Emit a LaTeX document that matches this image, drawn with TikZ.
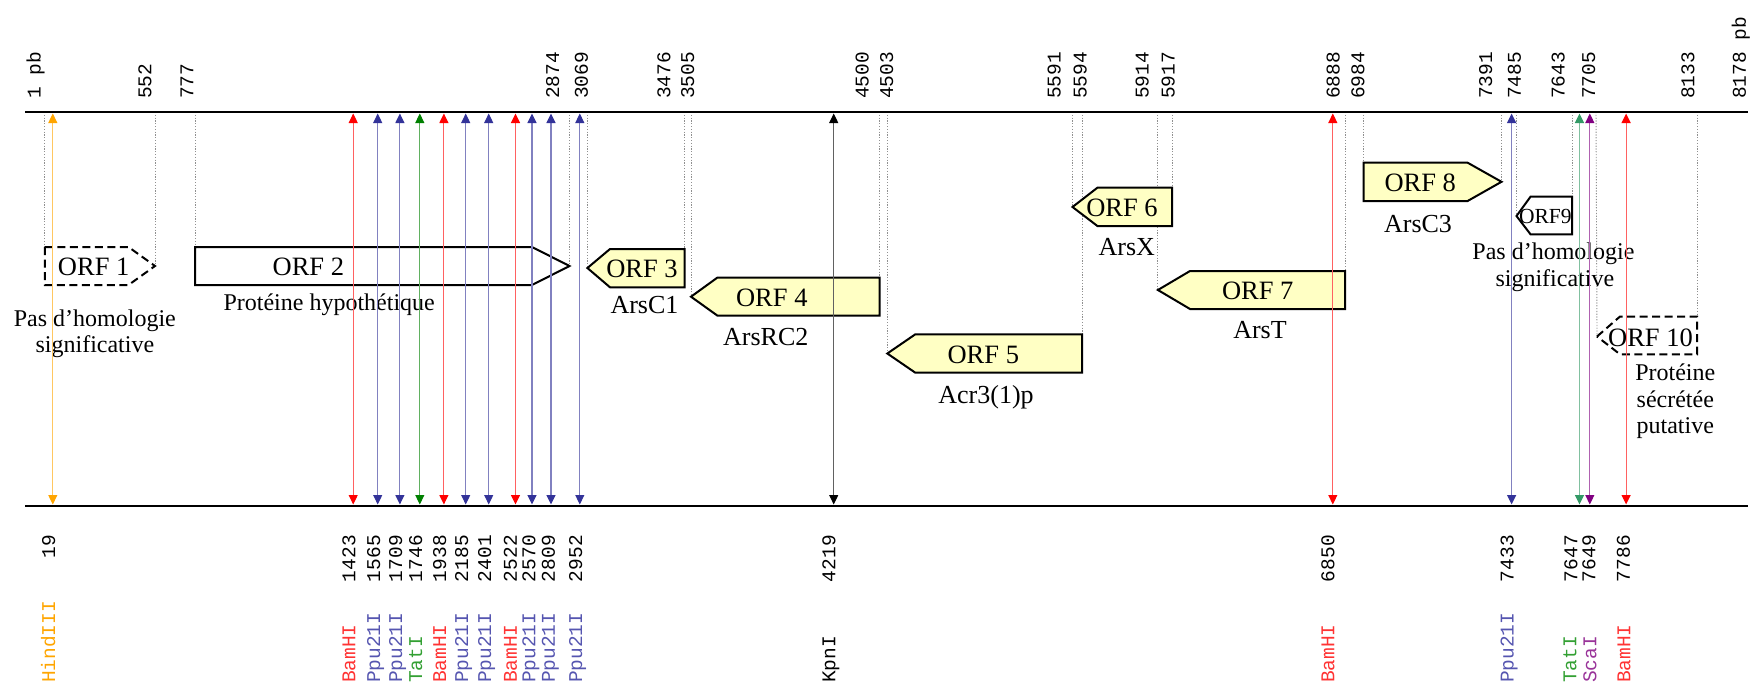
\documentclass[tikz,border=0pt]{standalone}
\usepackage{fontspec}
\setmainfont{Liberation Serif}
\newfontfamily\monof{Liberation Mono}
\usetikzlibrary{arrows.meta}
\definecolor{orfyellow}{HTML}{FFFFC4}
\definecolor{cHind}{HTML}{FFA500}
\definecolor{cBam}{HTML}{FF0000}
\definecolor{cPpu}{HTML}{333399}
\definecolor{cTat}{HTML}{008000}
\definecolor{cTatb}{HTML}{339966}
\definecolor{cSca}{HTML}{800080}
\definecolor{cKpn}{HTML}{000000}
\definecolor{lHind}{HTML}{FFA500}
\definecolor{lBam}{HTML}{FF3333}
\definecolor{lPpu}{HTML}{5555B0}
\definecolor{lTat}{HTML}{33A033}
\definecolor{lSca}{HTML}{993399}
\definecolor{lKpn}{HTML}{000000}
\definecolor{dotgray}{HTML}{909090}
\tikzset{
 mainline/.style={line width=2.4pt, draw=black},
 dotline/.style={draw=dotgray, line width=0.9pt, dash pattern=on 1.2pt off 1.6pt},
 site/.style={draw=#1!62, line width=1.1pt, arrows={Triangle[width=9pt,length=9.5pt,color=#1]-Triangle[width=9pt,length=9.5pt,color=#1]}},
 orfyel/.style={draw=black, line width=2pt, fill=orfyellow},
 orfwhite/.style={draw=black, line width=2pt, fill=white},
 orfdash/.style={draw=black, line width=2pt, fill=white, dash pattern=on 8pt off 4.5pt},
 orflab/.style={font=\fontsize{26.5}{28}\selectfont, inner sep=0pt},
 genelab/.style={font=\fontsize{26}{28}\selectfont, inner sep=0pt, anchor=base},
 desclab/.style={font=\fontsize{24}{26}\selectfont, inner sep=0pt, anchor=base},
 toplab/.style={font=\monof\fontsize{19.5}{20}\selectfont, rotate=90, anchor=mid west, inner sep=0pt},
 numlab/.style={font=\monof\fontsize{19.5}{20}\selectfont, rotate=90, anchor=mid east, inner sep=0pt},
 enzlab/.style={font=\monof\fontsize{19.5}{20}\selectfont, rotate=90, anchor=mid west, inner sep=0pt, text=#1},
}
\begin{document}
\begin{tikzpicture}[x=1pt,y=-1pt]
\useasboundingbox (0,0) rectangle (1758,688);

% ---- top position labels
\foreach \x/\t [count=\i] in {38.3/1 pb,149.2/552,191/777,556.8/2874,585.5/3069,668/3476,691.8/3505,866.3/4500,890.7/4503,1058.4/5591,1084.4/5594,1146.4/5914,1172.4/5917,1337.3/6888,1362.1/6984,1489.9/7391,1518.5/7485,1562.4/7643,1592.9/7705,1692/8133,1743.5/8178 pb}
  \node[toplab] (top\i) at (\x,99) {\t};

% ---- dotted guide start points on the top line
\foreach \n/\x in {a/44.8,b/155,c/195,d/569.5,e/587.4,f/684.5,g/691,h/879.7,i/887.3,j/1072.5,k/1082,l/1157.9,m/1172,n/1345,o/1363.5,p/1501.5,q/1516.5,r/1572,s/1596,t/1697}
  \coordinate (p\n) at (\x,112);

% ---- ORF shapes
\coordinate (o1a) at (44.8,247); \coordinate (o1b) at (128.5,247); \coordinate (o1t) at (155,266);
\coordinate (o1c) at (128.5,285); \coordinate (o1d) at (44.8,285);
\coordinate (o2a) at (195,247); \coordinate (o2b) at (532,247); \coordinate (o2t) at (569.5,266);
\coordinate (o2c) at (532,285); \coordinate (o2d) at (195,285);
\coordinate (o3t) at (587.4,268); \coordinate (o3a) at (610,249); \coordinate (o3b) at (684.5,249);
\coordinate (o3c) at (684.5,287.3); \coordinate (o3d) at (610,287.3);
\coordinate (o4t) at (691,296.7); \coordinate (o4a) at (717.5,277.5); \coordinate (o4b) at (879.7,277.5);
\coordinate (o4c) at (879.7,315.7); \coordinate (o4d) at (717.5,315.7);
\coordinate (o5t) at (887.3,353.5); \coordinate (o5a) at (915.3,334.3); \coordinate (o5b) at (1082,334.3);
\coordinate (o5c) at (1082,372.7); \coordinate (o5d) at (915.3,372.7);
\coordinate (o6t) at (1072.5,207); \coordinate (o6a) at (1097.4,187.7); \coordinate (o6b) at (1172,187.7);
\coordinate (o6c) at (1172,226); \coordinate (o6d) at (1097.4,226);
\coordinate (o7t) at (1157.9,290); \coordinate (o7a) at (1190,271); \coordinate (o7b) at (1345,271);
\coordinate (o7c) at (1345,309); \coordinate (o7d) at (1190,309);
\coordinate (o8a) at (1363.5,162.7); \coordinate (o8b) at (1467.6,162.7); \coordinate (o8t) at (1501.5,181.8);
\coordinate (o8c) at (1467.6,201); \coordinate (o8d) at (1363.5,201);
\coordinate (o9t) at (1516.5,216); \coordinate (o9a) at (1530.5,196.7); \coordinate (o9b) at (1572,196.7);
\coordinate (o9c) at (1572,234.3); \coordinate (o9d) at (1530.5,234.3);
\coordinate (o10t) at (1597,336.5); \coordinate (o10a) at (1620,316.5); \coordinate (o10b) at (1697,316.5);
\coordinate (o10c) at (1697,354.3); \coordinate (o10d) at (1620,354.3);

% dotted guides
\draw[dotline] (pa) -- (o1a);
\draw[dotline] (pb) -- (o1t);
\draw[dotline] (pc) -- (o2a);
\draw[dotline] (pd) -- (o2t);
\draw[dotline] (pe) -- (o3t);
\draw[dotline] (pf) -- (o3b);
\draw[dotline] (pg) -- (o4t);
\draw[dotline] (ph) -- (o4b);
\draw[dotline] (pi) -- (o5t);
\draw[dotline] (pj) -- (o6t);
\draw[dotline] (pk) -- (o5b);
\draw[dotline] (pl) -- (o7t);
\draw[dotline] (pm) -- (o6b);
\draw[dotline] (pn) -- (o7b);
\draw[dotline] (po) -- (o8a);
\draw[dotline] (pp) -- (o8t);
\draw[dotline] (pq) -- (o9t);
\draw[dotline] (pr) -- (o9b);
\draw[dotline] (ps) -- (o10t);
\draw[dotline] (pt) -- (o10b);

\draw[orfdash] (o1a) -- (o1b) -- (o1t) -- (o1c) -- (o1d) -- cycle;
\draw[orfwhite] (o2a) -- (o2b) -- (o2t) -- (o2c) -- (o2d) -- cycle;
\draw[orfyel] (o3t) -- (o3a) -- (o3b) -- (o3c) -- (o3d) -- cycle;
\draw[orfyel] (o4t) -- (o4a) -- (o4b) -- (o4c) -- (o4d) -- cycle;
\draw[orfyel] (o5t) -- (o5a) -- (o5b) -- (o5c) -- (o5d) -- cycle;
\draw[orfyel] (o6t) -- (o6a) -- (o6b) -- (o6c) -- (o6d) -- cycle;
\draw[orfyel] (o7t) -- (o7a) -- (o7b) -- (o7c) -- (o7d) -- cycle;
\draw[orfyel] (o8a) -- (o8b) -- (o8t) -- (o8c) -- (o8d) -- cycle;
\draw[orfwhite] (o9t) -- (o9a) -- (o9b) -- (o9c) -- (o9d) -- cycle;
\draw[orfdash] (o10t) -- (o10a) -- (o10b) -- (o10c) -- (o10d) -- cycle;

% ORF labels
\node[orflab] (l1) at (93.7,267) {ORF 1};
\node[orflab] (l2) at (308.4,267) {ORF 2};
\node[orflab] (l3) at (642,269) {ORF 3};
\node[orflab] (l4) at (771.8,297.5) {ORF 4};
\node[orflab] (l5) at (983.3,354.5) {ORF 5};
\node[orflab] (l6) at (1122,208) {ORF 6};
\node[orflab] (l7) at (1257.7,291) {ORF 7};
\node[orflab] (l8) at (1420.2,183) {ORF 8};
\node[orflab, font=\fontsize{21.5}{23}\selectfont] (l9) at (1545.3,216.5) {ORF9};
\node[orflab] (l10) at (1650.5,337.5) {ORF 10};

% gene / description labels
\node[desclab] (d1a) at (94.9,326) {Pas d’homologie};
\node[desclab] (d1b) at (94.9,352) {significative};
\node[desclab] (d2) at (329.2,310.5) {Protéine hypothétique};
\node[genelab] (g3) at (644.5,313) {ArsC1};
\node[genelab] (g4) at (765.8,345) {ArsRC2};
\node[genelab] (g5) at (986,403) {Acr3(1)p};
\node[genelab] (g6) at (1126.8,255.7) {ArsX};
\node[genelab] (g7) at (1260,338.3) {ArsT};
\node[genelab] (g8) at (1418,232.7) {ArsC3};
\node[desclab] (d9a) at (1553.4,259.3) {Pas d’homologie};
\node[desclab] (d9b) at (1554.8,286) {significative};
\node[desclab] (d10a) at (1675.3,380) {Protéine};
\node[desclab] (d10b) at (1675.3,407.3) {sécrétée};
\node[desclab] (d10c) at (1675.3,433.3) {putative};

% main lines
\coordinate (TL) at (25,112); \coordinate (TR) at (1748,112);
\coordinate (BL) at (25,506); \coordinate (BR) at (1748,506);
\draw[mainline] (TL) -- (TR);
\draw[mainline] (BL) -- (BR);

% restriction sites
\foreach \x/\c/\lc/\n/\e/\nx/\ex in {
 52.8/cHind/lHind/19/HindIII/52.8/52.8,
 353.2/cBam/lBam/1423/BamHI/353.2/353.2,
 377.7/cPpu/lPpu/1565/Ppu21I/377.7/377.7,
 399.9/cPpu/lPpu/1709/Ppu21I/399.9/399.9,
 419.8/cTat/lTat/1746/TatI/419.8/419.8,
 443.9/cBam/lBam/1938/BamHI/443.9/443.9,
 465.7/cPpu/lPpu/2185/Ppu21I/465.7/465.7,
 488.7/cPpu/lPpu/2401/Ppu21I/488.7/488.7,
 515.5/cBam/lBam/2522/BamHI/514.5/514.5,
 532/cPpu/lPpu/2570/Ppu21I/533/533,
 551/cPpu/lPpu/2809/Ppu21I/552.5/552.5,
 579.8/cPpu/lPpu/2952/Ppu21I/579.8/579.8,
 833.7/cKpn/lKpn/4219/KpnI/833/833,
 1332.8/cBam/lBam/6850/BamHI/1332/1332,
 1511.6/cPpu/lPpu/7433/Ppu21I/1511.4/1511.4,
 1579.5/cTatb/lTat/7647/TatI/1575/1574,
 1589.8/cSca/lSca/7649/ScaI/1593/1594,
 1626.1/cBam/lBam/7786/BamHI/1627.5/1628}
{
 \coordinate (st\n) at (\x,113.5);
 \coordinate (sb\n) at (\x,504.5);
 \draw[site=\c] (st\n) -- (sb\n);
 \node[numlab] (num\n) at (\nx,535) {\n};
 \node[enzlab=\lc] (enz\n) at (\ex,683) {\e};
}
\end{tikzpicture}
\end{document}
